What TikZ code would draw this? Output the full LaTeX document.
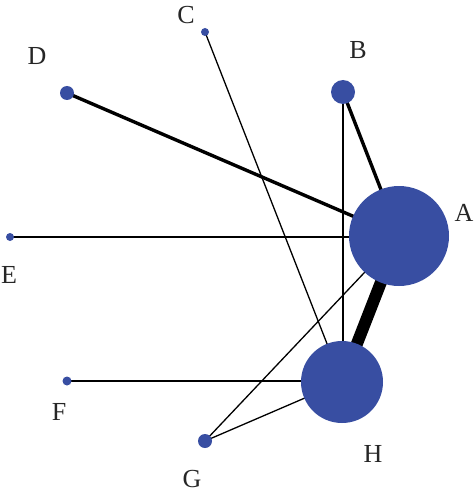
\documentclass[tikz,border=0pt]{standalone}
\usepackage{fontspec}
\setmainfont{Liberation Serif}
\usetikzlibrary{backgrounds}
\definecolor{nodeblue}{RGB}{56,78,162}
\tikzset{
  vert/.style={circle, fill=nodeblue, inner sep=0pt, minimum size=#1},
  lab/.style={font=\fontsize{26}{26}\selectfont, text=black!85, inner sep=0pt},
  thinedge/.style={line width=1.3pt, black},
  medge/.style={line width=3.4pt, black},
  bedge/.style={line width=12pt, black}
}
\begin{document}
\begin{tikzpicture}[x=1pt,y=-1pt]
\useasboundingbox (0,0) rectangle (474,500);
\node[vert=100pt] (A) at (399,236) {};
\node[vert=24pt] (B) at (343,92) {};
\node[vert=8pt] (C) at (205,32) {};
\node[vert=14pt] (D) at (67,93) {};
\node[vert=8pt] (E) at (10,237) {};
\node[vert=9pt] (F) at (67,381) {};
\node[vert=14pt] (G) at (205,441) {};
\node[vert=82pt] (H) at (342,382) {};
\node[lab] (lA) at (464,213) {A};
\node[lab] (lB) at (358,50) {B};
\node[lab] (lC) at (186,15) {C};
\node[lab] (lD) at (37,56) {D};
\node[lab] (lE) at (9,275) {E};
\node[lab] (lF) at (59,412) {F};
\node[lab] (lG) at (192,479) {G};
\node[lab] (lH) at (373,454) {H};
\begin{pgfonlayer}{background}
\draw[medge] (D.center) -- (A.center);
\draw[medge] (B.center) -- (A.center);
\draw[bedge] (A.center) -- (H.center);
\draw[thinedge] (C.center) -- (H.center);
\draw[thinedge] (B.center) -- (B.center |- H.center);
\draw[thinedge] (E.center) -- (E.center -| A.center);
\draw[thinedge] (F.center) -- (F.center -| H.center);
\draw[thinedge] (G.center) -- (A.center);
\draw[thinedge] (G.center) -- (H.center);
\end{pgfonlayer}
\end{tikzpicture}
\end{document}
